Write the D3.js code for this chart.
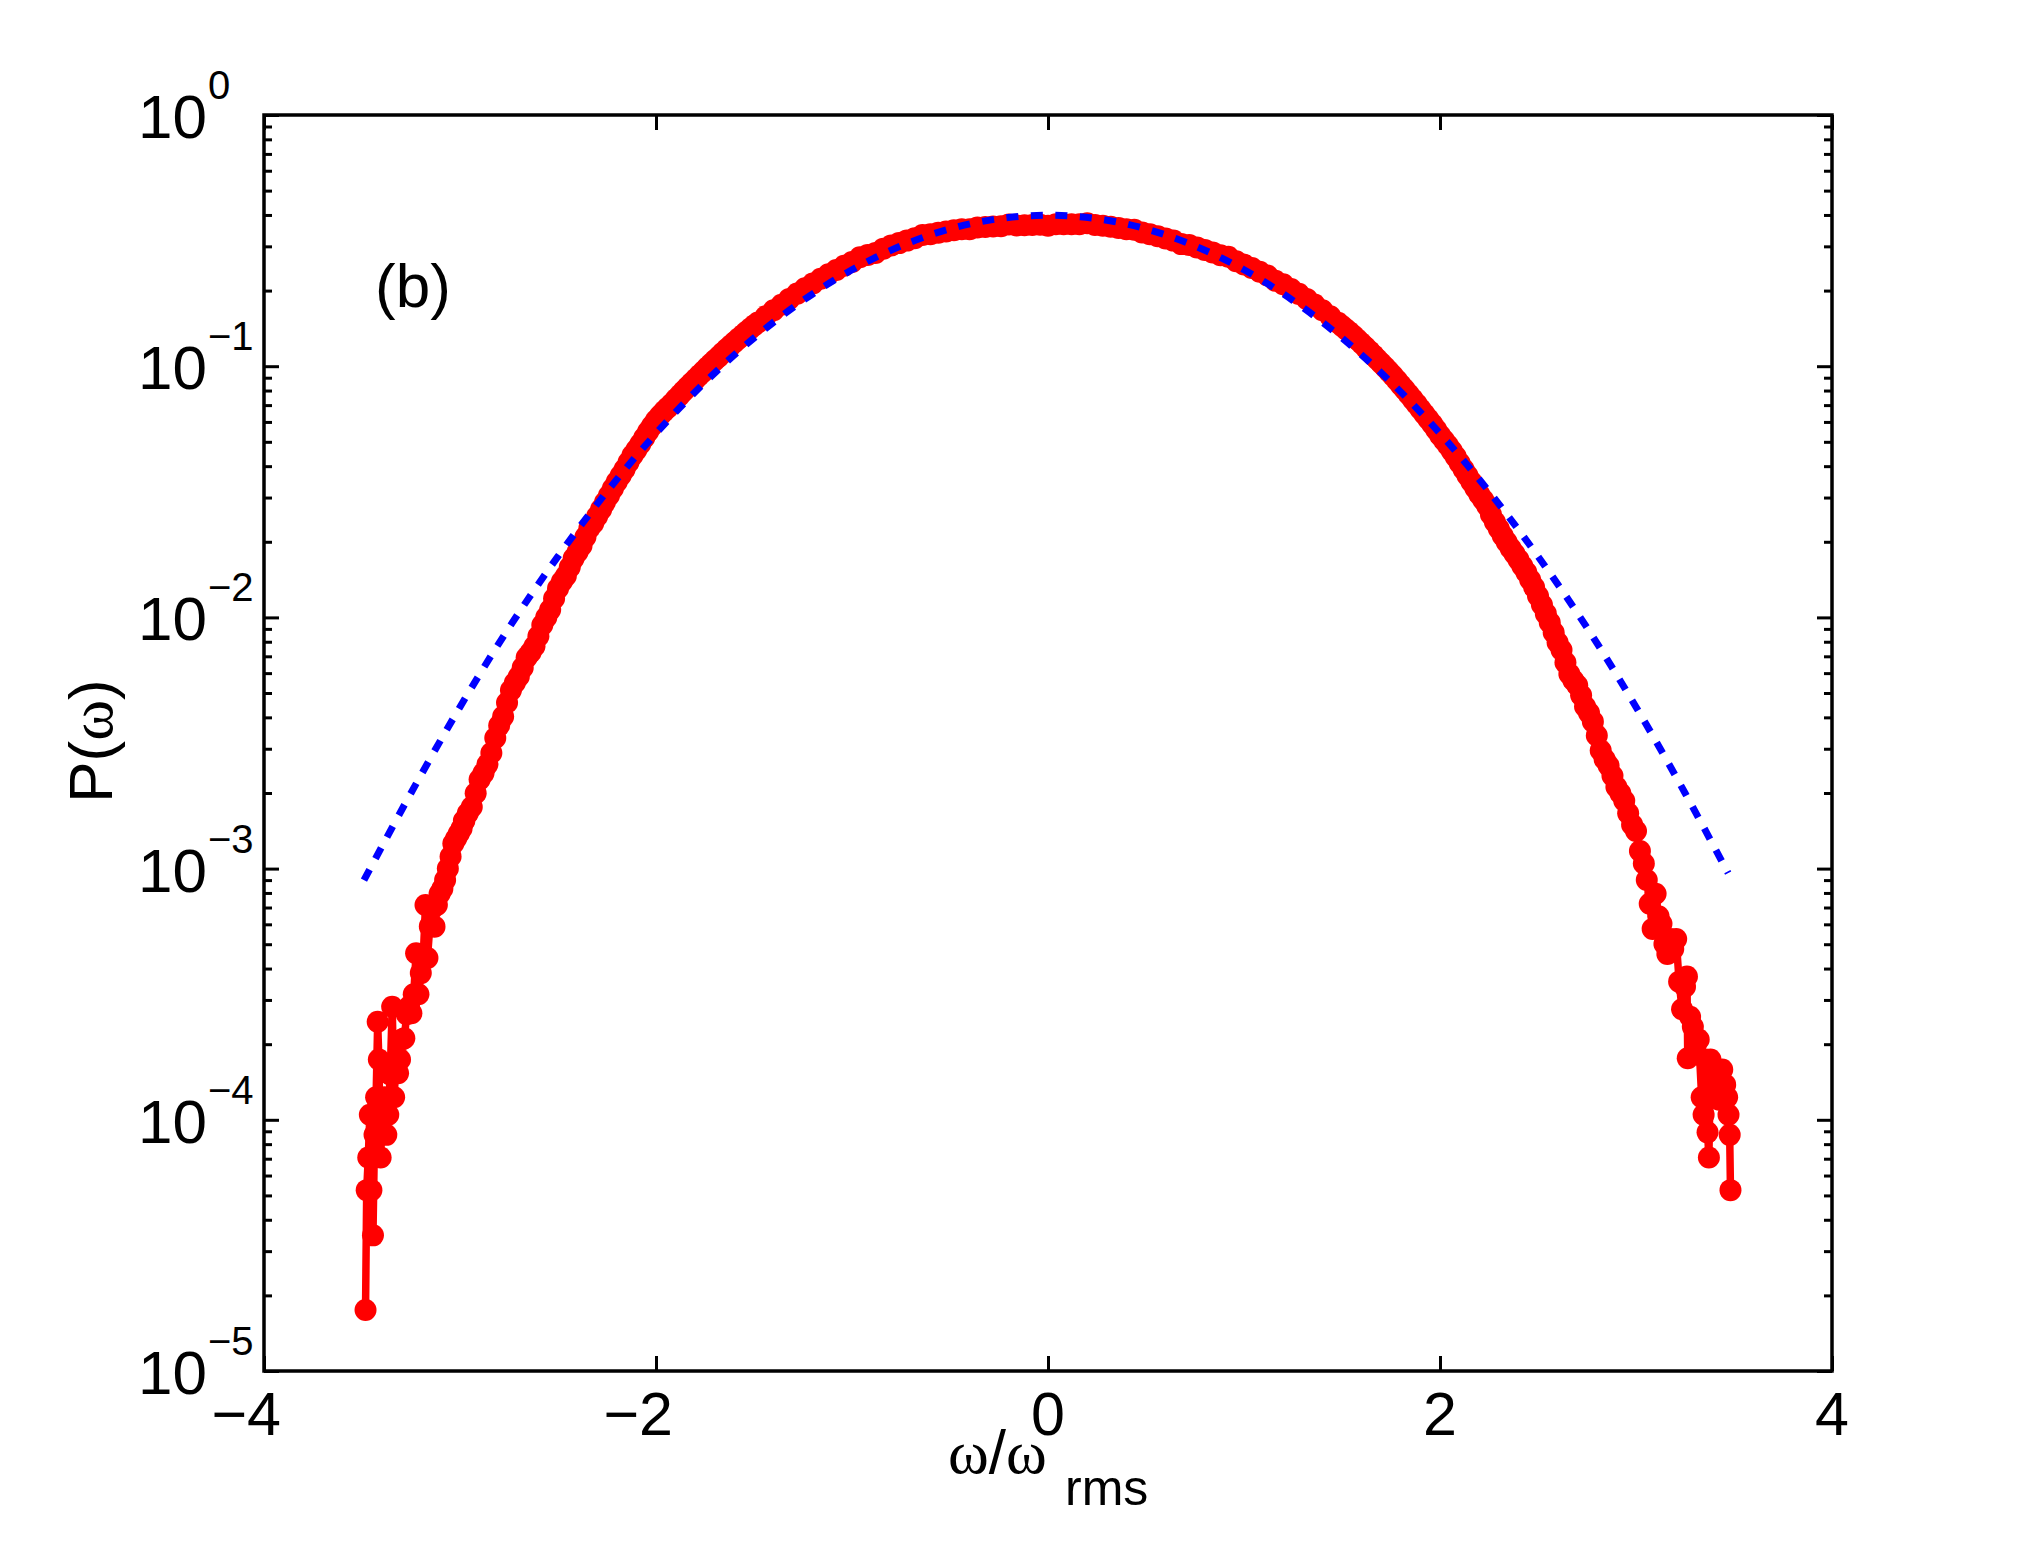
<!DOCTYPE html>
<html><head><meta charset="utf-8">
<script src="https://cdn.jsdelivr.net/npm/d3@7/dist/d3.min.js"></script>
<style>html,body{margin:0;padding:0;background:#fff;} svg{display:block;}</style>
</head><body>
<svg id="chart" width="2025" height="1542"></svg>
<script>
// ---- data ----
// x-axis ticks
const xTicks = [-4, -2, 0, 2, 4];
// y-axis decades (exponents of 10)
const yDecades = [-5, -4, -3, -2, -1, 0];

// red measured PDF: omega / omega_rms  and  log10 P(omega)
const redOmega = [
 // left tail
 -3.482,-3.476,-3.468,-3.460,-3.452,-3.444,-3.436,-3.428,-3.420,-3.414,-3.405,-3.396,-3.386,-3.376,-3.366,-3.356,-3.346,-3.336,-3.326,-3.316,
 -3.306,-3.296,-3.284,-3.272,-3.260,-3.248,-3.236,-3.224,-3.212,-3.200,-3.188,-3.176,-3.166,-3.154,-3.142,-3.130,-3.118,-3.104,-3.090,-3.076,
 -3.062,-3.048,-3.034,-3.020,-3.006,-2.992,-2.978,
 // left flank
 -2.98,-2.96,-2.94,-2.92,-2.90,-2.88,-2.86,-2.84,-2.82,-2.80,
 -2.78,-2.76,-2.74,-2.72,-2.70,-2.68,-2.66,-2.64,-2.62,-2.60,
 -2.58,-2.56,-2.54,-2.52,-2.50,-2.48,-2.46,-2.44,-2.42,-2.40,
 -2.38,-2.36,-2.34,-2.32,-2.30,-2.28,-2.26,-2.24,-2.22,-2.20,
 -2.18,-2.16,-2.14,-2.12,-2.10,-2.08,-2.06,-2.04,-2.02,-2.00,
 -1.98,-1.96,-1.94,-1.92,-1.90,-1.88,-1.86,-1.84,-1.82,-1.80,
 -1.78,-1.76,-1.74,-1.72,-1.70,-1.68,-1.66,-1.64,-1.62,-1.60,
 -1.58,-1.56,-1.54,-1.52,-1.50,
 // core
 -1.48,-1.44,-1.40,-1.36,-1.32,-1.28,-1.24,-1.20,-1.16,-1.12,
 -1.08,-1.04,-1.00,-0.96,-0.92,-0.88,-0.84,-0.80,-0.76,-0.72,
 -0.68,-0.64,-0.60,-0.56,-0.52,-0.48,-0.44,-0.40,-0.36,-0.32,
 -0.28,-0.24,-0.20,-0.16,-0.12,-0.08,-0.04,0.00,0.04,0.08,
 0.12,0.16,0.20,0.24,0.28,0.32,0.36,0.40,0.44,0.48,
 0.52,0.56,0.60,0.64,0.68,0.72,0.76,0.80,0.84,0.88,
 0.92,0.96,1.00,1.04,1.08,1.12,1.16,1.20,1.24,1.28,
 1.32,1.36,1.40,1.44,1.48,
 // right flank
 1.50,1.52,1.54,1.56,1.58,1.60,1.62,1.64,1.66,1.68,
 1.70,1.72,1.74,1.76,1.78,1.80,1.82,1.84,1.86,1.88,
 1.90,1.92,1.94,1.96,1.98,2.00,2.02,2.04,2.06,2.08,
 2.10,2.12,2.14,2.16,2.18,2.20,2.22,2.24,2.26,2.28,
 2.30,2.32,2.34,2.36,2.38,2.40,2.42,2.44,2.46,2.48,
 2.50,2.52,2.54,2.56,2.58,2.60,2.62,2.64,2.66,2.68,
 2.70,2.72,2.74,2.76,2.78,2.80,2.82,2.84,2.86,2.88,
 2.90,2.92,2.94,2.96,2.98,3.00,
 // right tail
 3.020,3.040,3.055,3.070,3.085,3.100,3.115,3.130,3.145,3.160,3.175,3.190,3.205,3.220,3.235,3.250,3.260,3.264,3.276,3.290,
 3.305,3.320,3.335,3.345,3.355,3.365,3.372,3.380,3.395,3.410,3.425,3.440,3.455,3.465,3.472,3.478,3.482
];
const redLog10P = [
 // left tail
 -4.757,-4.28,-4.15,-3.98,-4.28,-4.46,-4.06,-3.91,-3.61,-3.76,-4.15,-3.98,-3.91,-4.06,-3.98,-3.82,-3.55,-3.91,-3.76,-3.815,
 -3.76,-3.68,-3.675,-3.58,-3.55,-3.576,-3.50,-3.337,-3.50,-3.416,-3.36,-3.145,-3.356,-3.23,-3.16,-3.231,-3.145,-3.10,-3.08,-3.045,
 -3.00,-2.952,-2.90,-2.88,-2.86,-2.84,-2.81,
 // left flank
 -2.81,-2.78,-2.755,-2.70,-2.645,-2.62,-2.585,-2.54,-2.48,-2.43,
 -2.395,-2.34,-2.29,-2.26,-2.235,-2.20,-2.16,-2.14,-2.115,-2.075,
 -2.03,-2.00,-1.97,-1.925,-1.885,-1.857,-1.835,-1.80,-1.765,-1.74,
 -1.715,-1.68,-1.645,-1.625,-1.597,-1.57,-1.542,-1.515,-1.487,-1.46,
 -1.435,-1.41,-1.382,-1.355,-1.333,-1.31,-1.285,-1.26,-1.237,-1.215,
 -1.197,-1.18,-1.165,-1.15,-1.133,-1.117,-1.10,-1.084,-1.068,-1.053,
 -1.037,-1.022,-1.006,-0.991,-0.976,-0.962,-0.947,-0.933,-0.919,-0.905,
 -0.891,-0.878,-0.864,-0.851,-0.838,
 // core
 -0.826,-0.801,-0.777,-0.755,-0.732,-0.711,-0.690,-0.671,-0.652,-0.634,
 -0.617,-0.600,-0.585,-0.566,-0.557,-0.549,-0.532,-0.520,-0.510,-0.500,
 -0.491,-0.478,-0.475,-0.469,-0.464,-0.459,-0.455,-0.455,-0.448,-0.446,
 -0.444,-0.443,-0.436,-0.440,-0.439,-0.438,-0.437,-0.441,-0.435,-0.435,
 -0.435,-0.435,-0.431,-0.438,-0.441,-0.445,-0.450,-0.455,-0.457,-0.468,
 -0.475,-0.483,-0.492,-0.500,-0.514,-0.518,-0.527,-0.537,-0.547,-0.558,
 -0.564,-0.582,-0.595,-0.609,-0.624,-0.639,-0.660,-0.674,-0.693,-0.712,
 -0.732,-0.754,-0.777,-0.801,-0.827,
 // right flank
 -0.840,-0.853,-0.866,-0.880,-0.895,-0.910,-0.925,-0.940,-0.956,-0.972,
 -0.988,-1.004,-1.021,-1.038,-1.056,-1.075,-1.093,-1.112,-1.131,-1.150,
 -1.170,-1.190,-1.210,-1.230,-1.252,-1.275,-1.295,-1.315,-1.337,-1.36,
 -1.385,-1.41,-1.435,-1.46,-1.485,-1.51,-1.532,-1.555,-1.59,-1.62,
 -1.647,-1.675,-1.70,-1.725,-1.747,-1.77,-1.795,-1.82,-1.85,-1.88,
 -1.915,-1.95,-1.985,-2.02,-2.06,-2.10,-2.13,-2.18,-2.225,-2.25,
 -2.27,-2.31,-2.355,-2.38,-2.415,-2.47,-2.53,-2.565,-2.59,-2.63,
 -2.675,-2.70,-2.73,-2.78,-2.825,-2.85,
 // right tail
 -2.93,-2.98,-3.045,-3.14,-3.24,-3.10,-3.19,-3.22,-3.30,-3.34,-3.28,-3.32,-3.28,-3.45,-3.56,-3.47,-3.43,-3.755,-3.59,-3.63,
 -3.70,-3.68,-3.91,-3.98,-3.76,-4.05,-4.15,-3.76,-3.85,-3.80,-3.92,-3.80,-3.86,-3.91,-3.98,-4.06,-4.28
];

// blue dotted reference curve (Gaussian), read at these abscissae
const blueOmega = [-3.49,-3.25,-3.00,-2.75,-2.50,-2.25,-2.00,-1.75,-1.50,-1.25,-1.00,-0.75,-0.50,-0.25,0.00,
                   0.25,0.50,0.75,1.00,1.25,1.50,1.75,2.00,2.25,2.50,2.75,3.00,3.25,3.47];
const blueP = [9.0e-4,2.0e-3,4.4e-3,9.1e-3,1.75e-2,3.17e-2,5.4e-2,8.63e-2,0.1295,0.1826,0.242,0.3011,0.3521,0.3867,0.3989,
               0.3867,0.3521,0.3011,0.242,0.1826,0.1295,0.0863,0.054,0.0317,0.0175,0.0091,0.0044,0.0020,9.6e-4];

// ---- drawing ----
const L = 264, R = 1832, T = 115, B = 1371;
const svg = d3.select("#chart");
const x = d3.scaleLinear().domain([-4, 4]).range([L, R]);
const y = d3.scaleLog().domain([1e-5, 1]).range([B, T]);
const FONT = "'Liberation Sans', Arial, Helvetica, sans-serif";
const SERIF = "'Liberation Serif', 'Times New Roman', serif";

const majorY = yDecades.map(k => Math.pow(10, k));
const minorY = [];
yDecades.slice(0, -1).forEach(k => { for (let m = 2; m <= 9; m++) minorY.push(m * Math.pow(10, k)); });

function styleAxis(g) {
  g.select(".domain").remove();
  g.selectAll(".tick line").attr("stroke", "#000").attr("stroke-width", 3);
  g.selectAll(".tick text").remove();
}
// y axes (left & right), ticks inward
svg.append("g").attr("transform", `translate(${L},0)`)
  .call(d3.axisLeft(y).tickValues(majorY).tickSize(-15).tickFormat("")).call(styleAxis);
svg.append("g").attr("transform", `translate(${L},0)`)
  .call(d3.axisLeft(y).tickValues(minorY).tickSize(-8).tickFormat("")).call(styleAxis);
svg.append("g").attr("transform", `translate(${R},0)`)
  .call(d3.axisRight(y).tickValues(majorY).tickSize(-15).tickFormat("")).call(styleAxis);
svg.append("g").attr("transform", `translate(${R},0)`)
  .call(d3.axisRight(y).tickValues(minorY).tickSize(-8).tickFormat("")).call(styleAxis);
// x axes (bottom & top)
svg.append("g").attr("transform", `translate(0,${B})`)
  .call(d3.axisBottom(x).tickValues(xTicks).tickSize(-15).tickFormat("")).call(styleAxis);
svg.append("g").attr("transform", `translate(0,${T})`)
  .call(d3.axisTop(x).tickValues(xTicks).tickSize(-15).tickFormat("")).call(styleAxis);

// red data
const redPts = redOmega.map((w, i) => [w, Math.pow(10, redLog10P[i])]);
const lineR = d3.line().x(d => x(d[0])).y(d => y(d[1]));
svg.append("path").datum(redPts).attr("d", lineR)
  .attr("fill", "none").attr("stroke", "#ff0000").attr("stroke-width", 7.5).attr("stroke-linejoin", "round");
svg.append("g").selectAll("circle").data(redPts).join("circle")
  .attr("cx", d => x(d[0])).attr("cy", d => y(d[1])).attr("r", 11).attr("fill", "#ff0000");

// blue dotted
const bluePts = blueOmega.map((w, i) => [w, blueP[i]]);
const lineB = d3.line().x(d => x(d[0])).y(d => y(d[1])).curve(d3.curveCatmullRom.alpha(0.5));
svg.append("path").datum(bluePts).attr("d", lineB)
  .attr("fill", "none").attr("stroke", "#0000ff").attr("stroke-width", 7)
  .attr("stroke-dasharray", "12,12.5").attr("stroke-linecap", "butt");

// frame
svg.append("rect").attr("x", L).attr("y", T).attr("width", R - L).attr("height", B - T)
  .attr("fill", "none").attr("stroke", "#000").attr("stroke-width", 3.5);

// y tick labels 10^k
yDecades.forEach(k => {
  const t = svg.append("text").attr("x", 138).attr("y", y(Math.pow(10, k)) + 23)
    .attr("font-family", FONT).attr("font-size", 62).attr("fill", "#000").text("10");
  t.append("tspan").attr("font-size", 40).attr("dy", -39).attr("dx", 1)
    .text(k < 0 ? "\u2212" + Math.abs(k) : String(k));
});

// x tick labels (digit centred on tick, minus to its left)
xTicks.forEach(v => {
  svg.append("text").attr("x", x(v) + 17).attr("y", 1435).attr("text-anchor", "end")
    .attr("font-family", FONT).attr("font-size", 61).attr("fill", "#000")
    .text(v < 0 ? "\u2212" + Math.abs(v) : String(v));
});

// x label  ω/ω_rms
const xl = svg.append("text").attr("x", 948).attr("y", 1473)
  .attr("font-family", FONT).attr("font-size", 62).attr("fill", "#000");
xl.append("tspan").attr("font-family", SERIF).text("\u03C9");
xl.append("tspan").text("/");
xl.append("tspan").attr("font-family", SERIF).text("\u03C9");
svg.append("text").attr("x", 1065).attr("y", 1505)
  .attr("font-family", FONT).attr("font-size", 50).attr("fill", "#000").text("rms");

// y label  P(ω)
const yl = svg.append("text").attr("transform", "translate(112,741) rotate(-90)")
  .attr("text-anchor", "middle").attr("font-family", FONT).attr("font-size", 62).attr("fill", "#000");
yl.append("tspan").text("P(");
yl.append("tspan").attr("font-family", SERIF).text("\u03C9");
yl.append("tspan").text(")");

// panel label
svg.append("text").attr("x", 375).attr("y", 307).attr("font-family", FONT)
  .attr("font-size", 62).attr("fill", "#000").text("(b)");
</script>
</body></html>
